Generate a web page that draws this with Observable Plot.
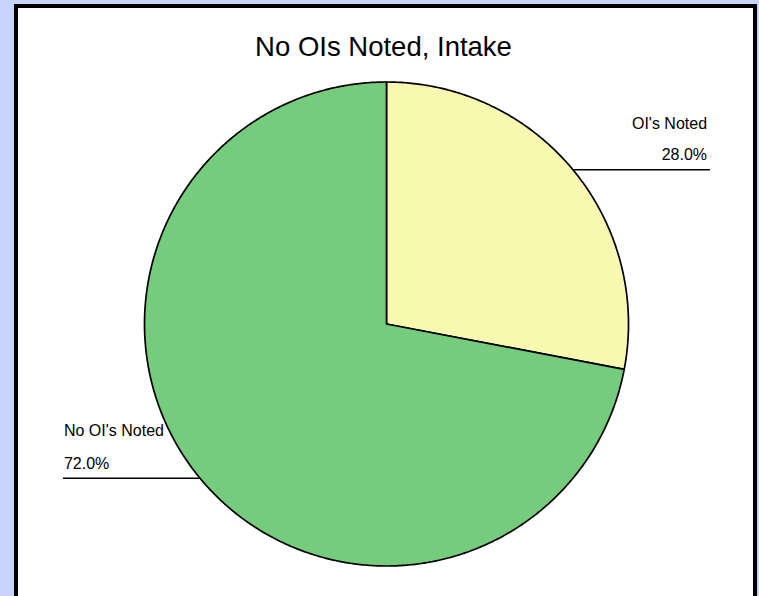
<!DOCTYPE html>
<html>
<head>
<meta charset="utf-8">
<script src="https://cdn.jsdelivr.net/npm/d3@7"></script>
<script src="https://cdn.jsdelivr.net/npm/@observablehq/plot@0.6"></script>
<style>
  html, body { margin: 0; padding: 0; width: 759px; height: 596px; overflow: hidden; background: #c8d4fc; }
  #panel { position: absolute; left: 14px; top: 4px; width: 743px; height: 700px; box-sizing: border-box; border: 4px solid #000; background: #fff; }
  #chart { position: absolute; left: 0; top: 0; }
</style>
</head>
<body>
<div id="panel"></div>
<div id="chart"></div>
<script>
const title = "No OIs Noted, Intake";
const categories = ["OI's Noted", "No OI's Noted"];
const values = [28.0, 72.0];
const labels = ["28.0%", "72.0%"];
const colors = ["#f8f8b0", "#74cc7c"];

const total = d3.sum(values);
const slices = [];
let acc = 0;
categories.forEach((c, i) => {
  const a0 = acc / total * 2 * Math.PI;
  acc += values[i];
  const a1 = acc / total * 2 * Math.PI;
  slices.push({cat: c, a0, a1, mid: (a0 + a1) / 2, pct: labels[i]});
});

// polygon outline of each slice (clockwise from 12 o'clock)
const poly = [];
for (const s of slices) {
  poly.push({cat: s.cat, x: 0, y: 0});
  const n = Math.max(2, Math.ceil((s.a1 - s.a0) / (Math.PI / 360)));
  for (let k = 0; k <= n; k++) {
    const a = s.a0 + (s.a1 - s.a0) * k / n;
    poly.push({cat: s.cat, x: Math.sin(a), y: Math.cos(a)});
  }
}

const reach = 1.337;
const leaders = slices.map(s => {
  const x1 = Math.sin(s.mid), y1 = Math.cos(s.mid);
  const right = x1 >= 0;
  return {cat: s.cat, pct: s.pct, x1, y1, x2: right ? reach : -reach, y2: y1, right};
});

const plot = Plot.plot({
  width: 759,
  height: 596,
  marginLeft: 144,
  marginRight: 131,
  marginTop: 81.5,
  marginBottom: 30.5,
  x: {domain: [-1, 1], axis: null},
  y: {domain: [-1, 1], axis: null},
  color: {domain: categories, range: colors},
  style: {background: "transparent", fontFamily: "'Liberation Sans', Arial, sans-serif", color: "#000"},
  marks: [
    Plot.line(poly, {x: "x", y: "y", z: "cat", fill: "cat", stroke: "#000", strokeWidth: 1.7, curve: "linear-closed"}),
    Plot.link(leaders, {x1: "x1", y1: "y1", x2: "x2", y2: "y2", stroke: "#000", strokeWidth: 1.3}),
    Plot.text(leaders.filter(d => d.right), {x: "x2", y: "y2", text: "pct", textAnchor: "end", lineAnchor: "bottom", dx: -3, dy: -9.5, fontSize: 16, fill: "#000"}),
    Plot.text(leaders.filter(d => d.right), {x: "x2", y: "y2", text: "cat", textAnchor: "end", lineAnchor: "bottom", dx: -3, dy: -41, fontSize: 16, fill: "#000"}),
    Plot.text(leaders.filter(d => !d.right), {x: "x2", y: "y2", text: "pct", textAnchor: "start", lineAnchor: "bottom", dx: 1, dy: -9, fontSize: 16, fill: "#000"}),
    Plot.text(leaders.filter(d => !d.right), {x: "x2", y: "y2", text: "cat", textAnchor: "start", lineAnchor: "bottom", dx: 1, dy: -42, fontSize: 16, fill: "#000"}),
    Plot.text([title], {frameAnchor: "top", text: d => d, lineAnchor: "bottom", dx: -3, dy: -26.5, fontSize: 27.5, letterSpacing: 0.5, fill: "#000"})
  ]
});
document.getElementById("chart").appendChild(plot);
</script>
</body>
</html>
